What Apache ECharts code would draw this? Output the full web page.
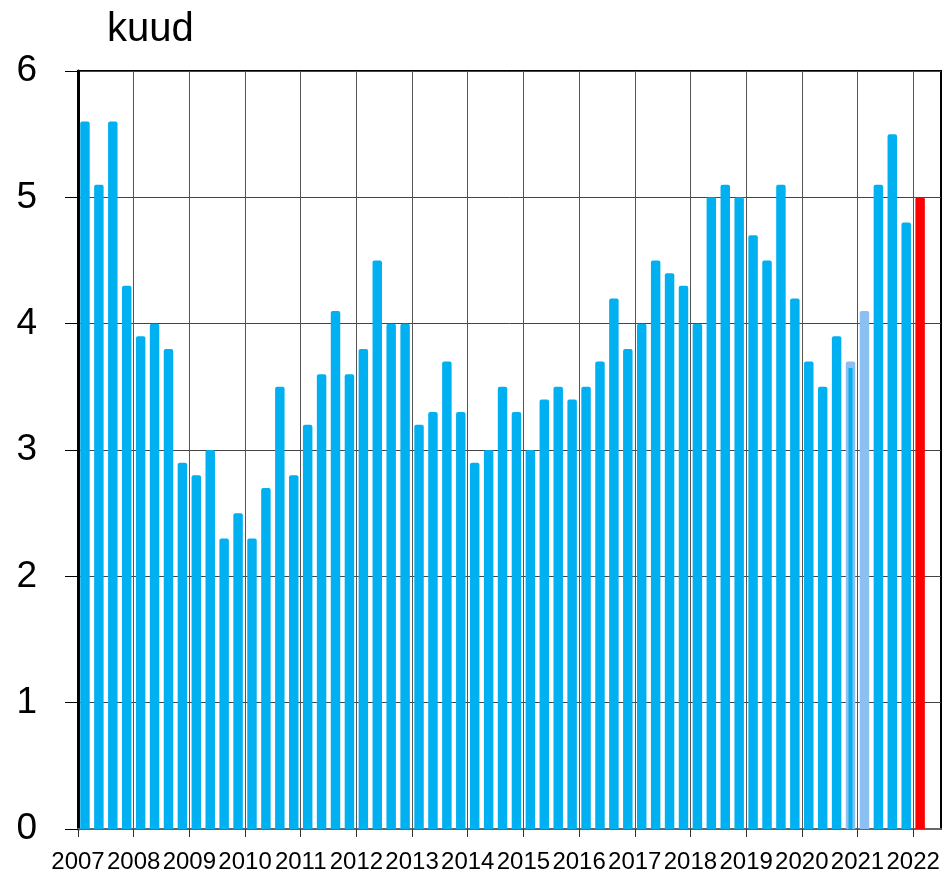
<!DOCTYPE html>
<html>
<head>
<meta charset="utf-8">
<script src="https://cdn.jsdelivr.net/npm/echarts@6/dist/echarts.min.js"></script>
<style>
html,body{margin:0;padding:0;background:#fff;}
#chart{width:947px;height:875px;}
</style>
</head>
<body>
<div id="chart"></div>
<script>
// Quarterly values, 2007 Q1 .. 2022 Q1 (last slot 2022 Q2 empty)
var quarters = [];
var years = ["2007","2008","2009","2010","2011","2012","2013","2014","2015","2016","2017","2018","2019","2020","2021","2022"];
var values = [
  5.6, 5.1, 5.6, 4.3,
  3.9, 4.0, 3.8, 2.9,
  2.8, 3.0, 2.3, 2.5,
  2.3, 2.7, 3.5, 2.8,
  3.2, 3.6, 4.1, 3.6,
  3.8, 4.5, 4.0, 4.0,
  3.2, 3.3, 3.7, 3.3,
  2.9, 3.0, 3.5, 3.3,
  3.0, 3.4, 3.5, 3.4,
  3.5, 3.7, 4.2, 3.8,
  4.0, 4.5, 4.4, 4.3,
  4.0, 5.0, 5.1, 5.0,
  4.7, 4.5, 5.1, 4.2,
  3.7, 3.5, 3.9, 3.7,
  4.1, 5.1, 5.5, 4.8,
  5.0, null
];
var lightIdx = [55, 56];   // lighter coloured bars
var redIdx = [60];         // latest quarter, highlighted
var innerValues = [];      // narrow darker bar inside 2020 Q4
for (var i = 0; i < values.length; i++) {
  quarters.push(years[Math.floor(i / 4)] + " Q" + (i % 4 + 1));
  innerValues.push(i === 55 ? 3.65 : null);
}
var yTicks = [0, 1, 2, 3, 4, 5, 6];

var barData = values.map(function (v, i) {
  var c = '#00B0F0';
  if (lightIdx.indexOf(i) >= 0) c = '#8CC0F2';
  if (redIdx.indexOf(i) >= 0) c = '#FF0000';
  return { value: v, itemStyle: { color: c } };
});

var yearPos = years.map(function (y, i) { return i; });

var chart = echarts.init(document.getElementById('chart'), null, { renderer: 'canvas' });
chart.setOption({
  animation: false,
  backgroundColor: '#fff',
  grid: { left: 78, top: 71, right: 6, bottom: 46, show: true, borderColor: '#000', borderWidth: 2, backgroundColor: 'transparent' },
  title: {
    text: 'kuud', left: 102, top: 5,
    textStyle: { fontFamily: 'Liberation Sans, Arial, sans-serif', fontSize: 40, fontWeight: 'normal', color: '#000' }
  },
  xAxis: [
    {
      type: 'category', data: quarters, boundaryGap: true,
      axisLine: { show: true, lineStyle: { color: '#666', width: 2 } },
      axisTick: { show: false }, axisLabel: { show: false }, splitLine: { show: false }
    },
    {
      type: 'value', min: 0, max: values.length / 4, interval: 1, position: 'bottom',
      axisLine: { show: false },
      axisTick: { show: true, length: 8, customValues: yearPos, lineStyle: { color: '#333', width: 1 } },
      axisLabel: {
        show: true, customValues: yearPos, margin: 21,
        showMinLabel: true, showMaxLabel: true, hideOverlap: false,
        fontFamily: 'Liberation Sans, Arial, sans-serif',
        fontSize: 24, color: '#000',
        formatter: function (v) { return years[v] !== undefined ? years[v] : ''; }
      },
      splitLine: { show: true, lineStyle: { color: '#555', width: 1 } }
    },
    {
      type: 'category', data: quarters, boundaryGap: true, show: false
    }
  ],
  yAxis: {
    type: 'value', min: 0, max: 6, interval: 1,
    axisLine: { show: true, lineStyle: { color: '#000', width: 3 } },
    axisTick: { show: true, length: 13, lineStyle: { color: '#000', width: 1 } },
    axisLabel: {
      margin: 41, fontFamily: 'Liberation Sans, Arial, sans-serif', fontSize: 37, color: '#000',
      formatter: function (v) { return yTicks.indexOf(v) >= 0 ? String(v) : ''; }
    },
    splitLine: { show: true, lineStyle: { color: '#444', width: 1 } }
  },
  series: [
    {
      type: 'bar', xAxisIndex: 0, data: barData, barWidth: '68%',
      itemStyle: { borderRadius: [2, 2, 0, 0] }, z: 3
    },
    {
      type: 'bar', xAxisIndex: 2, data: innerValues, barWidth: 4,
      itemStyle: { color: '#00B0F0' }, z: 4
    }
  ]
});
</script>
</body>
</html>
